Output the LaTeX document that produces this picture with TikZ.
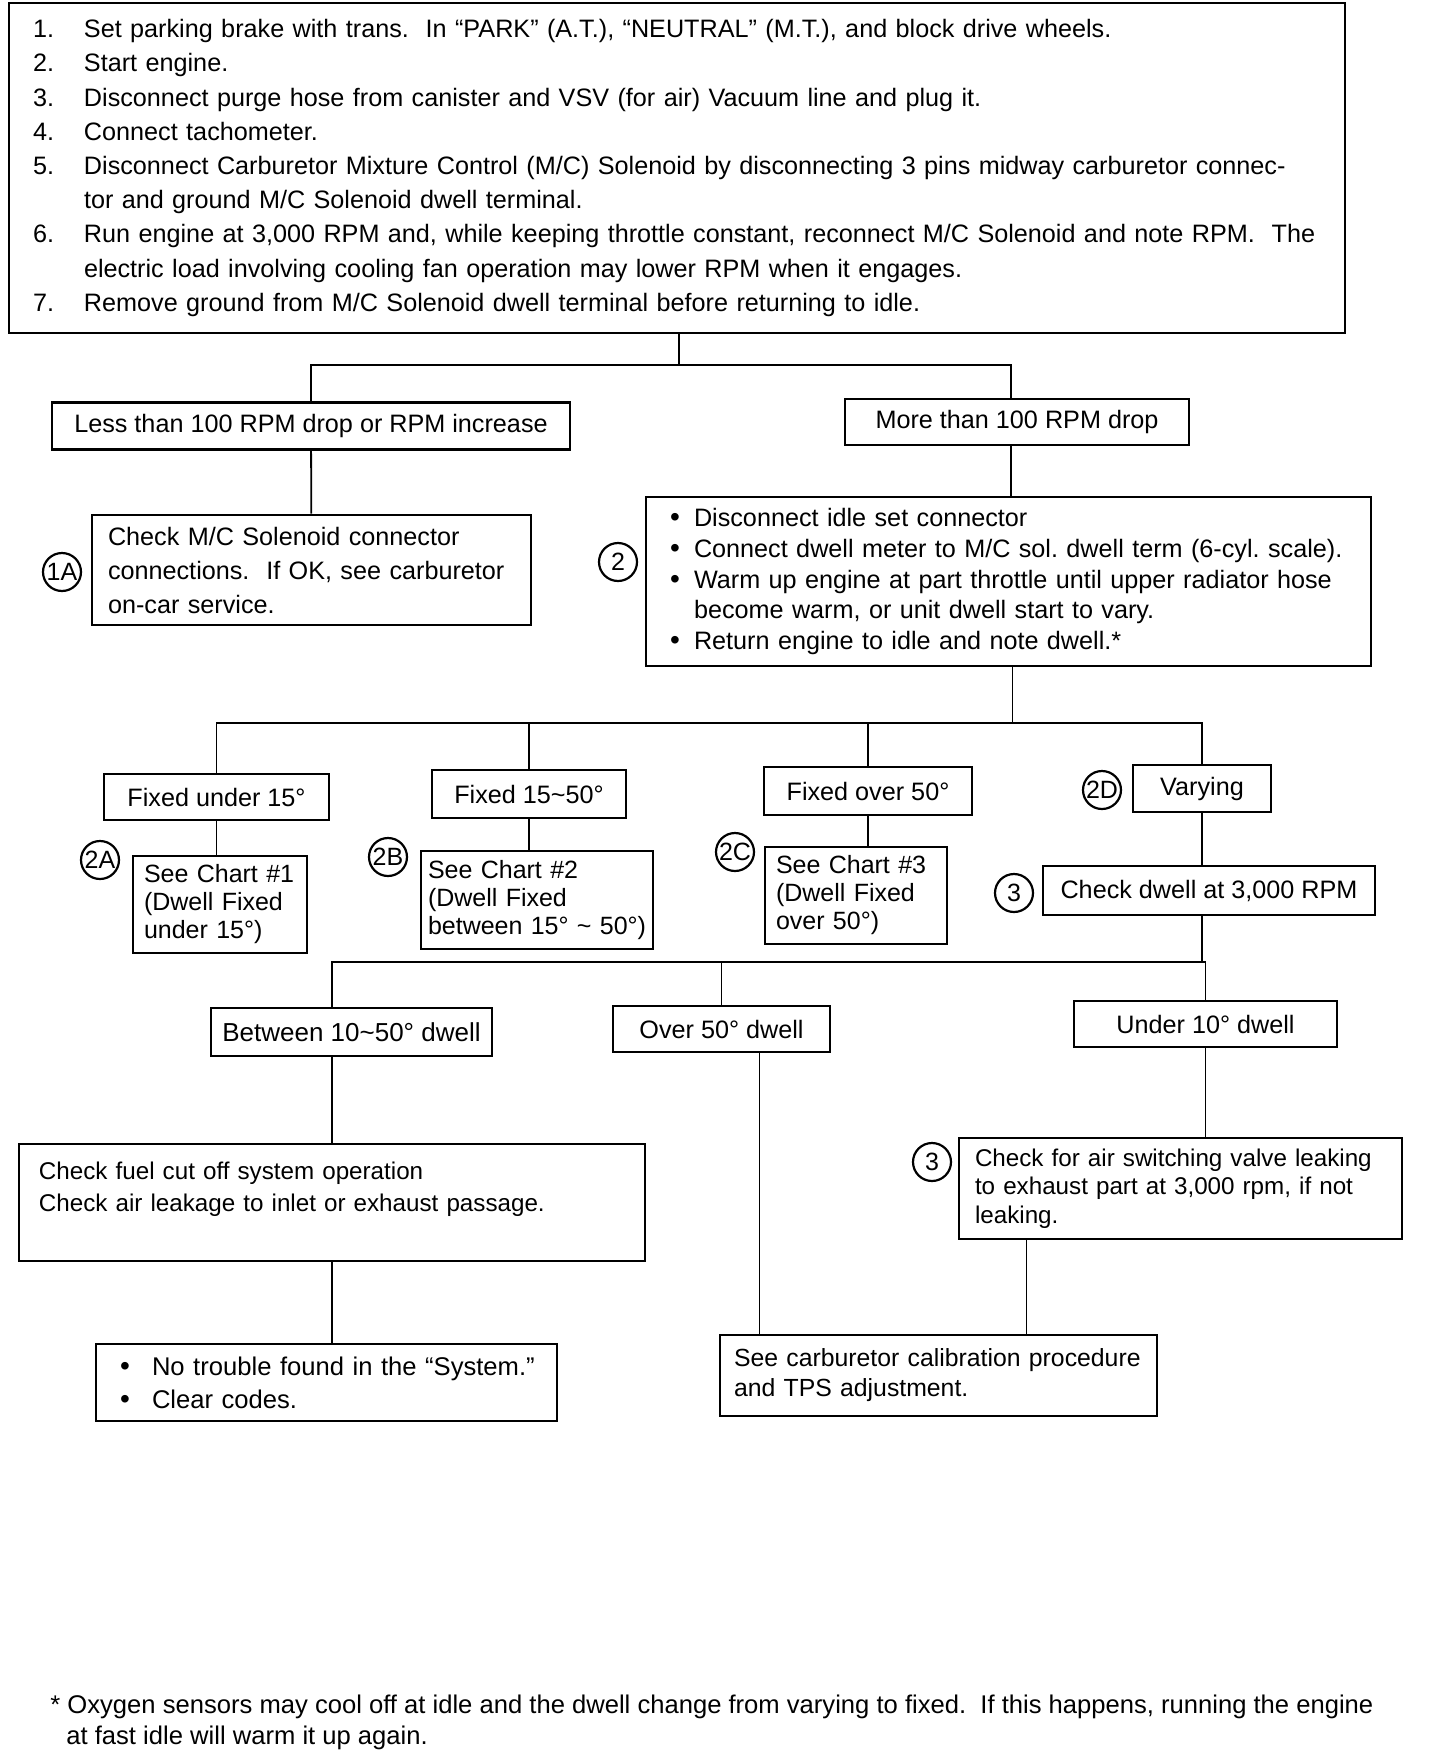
\documentclass[tikz,border=0pt]{standalone}
\usepackage{fontspec}
\setmainfont{Liberation Sans}
\usetikzlibrary{positioning}

\newcommand{\itm}[2]{\mbox{\makebox[25.5pt][l]{#1}#2}}
\newcommand{\blt}[1][12pt]{\makebox[#1][l]{\fontsize{14}{14}\selectfont\textbullet}}

\begin{document}
\frenchspacing
\begin{tikzpicture}[
  x=0.5pt, y=-0.5pt,
  box/.style={draw, line width=1.4pt, inner sep=0pt, align=center},
  txt/.style 2 args={font=\fontsize{#1}{#2}\selectfont},
  one/.style={txt={12.6}{15}},
  tag/.style={circle, draw, line width=1.1pt, inner sep=0pt, minimum size=19pt,
              font=\fontsize{12.5}{12.5}\selectfont},
  link/.style={line width=0.9pt},
]
  \useasboundingbox (0,0) rectangle (1440,1750);

  % procedure
  \node[box, txt={12.6}{17.1}, align=left, text width=644pt, inner xsep=12pt,
        minimum height=165pt] (top) at (677,168)
    {\itm{1.}{Set parking brake with trans.\ \ In “PARK” (A.T.), “NEUTRAL” (M.T.), and block drive wheels.}\\
     \itm{2.}{Start engine.}\\
     \itm{3.}{Disconnect purge hose from canister and VSV (for air) Vacuum line and plug it.}\\
     \itm{4.}{Connect tachometer.}\\
     \itm{5.}{Disconnect Carburetor Mixture Control (M/C) Solenoid by disconnecting 3 pins midway carburetor connec-}\\
     \itm{}{tor and ground M/C Solenoid dwell terminal.}\\
     \itm{6.}{Run engine at 3,000 RPM and, while keeping throttle constant, reconnect M/C Solenoid and note RPM.\ \ The}\\
     \itm{}{electric load involving cooling fan operation may lower RPM when it engages.}\\
     \itm{7.}{Remove ground from M/C Solenoid dwell terminal before returning to idle.}};

  % RPM result
  \node[box, one, minimum width=259pt, minimum height=23.5pt] (less) at (311,426)
    {Less than 100 RPM drop or RPM increase};
  \node[box, one, minimum width=172pt, minimum height=23pt] (more) at (1017,422)
    {More than 100 RPM drop};

  \node[box, txt={12.6}{17}, align=left, text width=203.5pt, inner xsep=8pt,
        minimum height=55pt] (chk1a) at (311.5,570)
    {Check M/C Solenoid connector\\
     \mbox{connections.\ \ If OK, see carburetor}\\
     on-car service.};
  \node[box, txt={12.6}{15.4}, align=left, text width=338.5pt, inner xsep=12pt,
        minimum height=84.5pt] (chk2) at (1008.5,581.5)
    {\blt Disconnect idle set connector\\
     \blt Connect dwell meter to M/C sol. dwell term (6-cyl. scale).\\
     \blt Warm up engine at part throttle until upper radiator hose\\
     \hspace*{12pt}become warm, or unit dwell start to vary.\\
     \blt Return engine to idle and note dwell.*};

  % dwell at idle
  \node[box, one, minimum width=112.5pt, minimum height=23pt] (fix15) at (216.5,797)
    {Fixed under 15°};
  \node[box, one, minimum width=97pt, minimum height=24pt] (fix1550) at (529,794)
    {Fixed 15\textasciitilde 50°};
  \node[box, one, minimum width=104pt, minimum height=24pt] (fix50) at (868,791)
    {Fixed over 50°};
  \node[box, one, minimum width=69pt, minimum height=23.5pt] (vary) at (1202,788.5)
    {Varying};

  \node[box, txt={12.5}{14}, align=left, text width=76pt, inner xsep=5.5pt,
        minimum height=48.5pt] (chart1) at (220,904.5)
    {See Chart \#1\\(Dwell Fixed\\under 15°)};
  \node[box, txt={12.5}{14}, align=left, text width=109pt, inner xsep=3.5pt,
        minimum height=49pt] (chart2) at (537,900)
    {See Chart \#2\\(Dwell Fixed\\\mbox{between 15° \textasciitilde{} 50°)}};
  \node[box, txt={12.5}{14}, align=left, text width=80pt, inner xsep=5.5pt,
        minimum height=48.5pt] (chart3) at (856,895.5)
    {See Chart \#3\\(Dwell Fixed\\over 50°)};
  \node[box, one, minimum width=166pt, minimum height=24.5pt] (dwell3k) at (1209,890.5)
    {Check dwell at 3,000 RPM};

  % dwell at 3,000 RPM
  \node[box, txt={13}{15}, minimum width=140.5pt, minimum height=24pt] (btw) at (351.5,1032)
    {Between 10\textasciitilde 50° dwell};
  \node[box, one, minimum width=108.5pt, minimum height=23pt] (ov50) at (721.5,1029)
    {Over 50° dwell};
  \node[box, one, minimum width=131.5pt, minimum height=23pt] (un10) at (1205.5,1024)
    {Under 10° dwell};

  \node[box, txt={12.1}{16}, align=left, text width=293pt, inner xsep=10pt,
        minimum height=58.5pt] (fuel) at (332,1202.5)
    {Check fuel cut off system operation\\
     Check air leakage to inlet or exhaust passage.\\
     \mbox{}};
  \node[box, txt={12.1}{14.25}, align=left, text width=205.5pt, inner xsep=8pt,
        minimum height=50.5pt] (asv) at (1180.5,1188.5)
    {\mbox{Check for air switching valve leaking}\\
     to exhaust part at 3,000 rpm, if not\\
     leaking.};
  \node[box, txt={12.8}{16.5}, align=left, text width=210.5pt, inner xsep=10pt,
        minimum height=38.5pt] (notr) at (326.5,1382.5)
    {\mbox{\hspace*{2pt}\blt[16pt]No trouble found in the “System.”}\\
     \hspace*{2pt}\blt[16pt]Clear codes.};
  \node[box, txt={12.4}{15}, align=left, text width=204.5pt, inner xsep=7pt,
        minimum height=40.5pt] (calib) at (938.5,1375.5)
    {\mbox{See carburetor calibration procedure}\\
     and TPS adjustment.};

  % step tags
  \node[tag] (tag1a) at (62,572) {1A};
  \node[tag] (tag2) at (618,562) {2};
  \node[tag] (tag2a) at (100,860) {2A};
  \node[tag] (tag2b) at (388,857) {2B};
  \node[tag] (tag2c) at (735,852) {2C};
  \node[tag] (tag2d) at (1102,790) {2D};
  \node[tag] (tag3a) at (1014,893) {3};
  \node[tag] (tag3b) at (932,1162) {3};

  % connectors
  \coordinate (j1) at (679,365);
  \coordinate (j2) at (0,723);
  \coordinate (j3) at (0,962);
  \draw[link] (top.south -| j1) -- (j1);
  \draw[link] (less.north) |- (j1) -| ([xshift=-3pt]more.north);
  \draw[link] (less) -- (chk1a);
  \draw[link] ([xshift=-3pt]more.south) -- ([xshift=-3pt]more.south |- chk2.north);

  \draw[link] ([xshift=2pt]chk2.south) -- ([xshift=2pt]chk2.south |- j2);
  \draw[link] (fix15.north) |- (vary.north |- j2) -- (vary.north);
  \draw[link] (fix1550.north) -- (fix1550.north |- j2);
  \draw[link] (fix50.north) -- (fix50.north |- j2);
  \draw[link] (fix15.south) -- (fix15.south |- chart1.north);
  \draw[link] (fix1550.south) -- (fix1550.south |- chart2.north);
  \draw[link] (fix50.south) -- (fix50.south |- chart3.north);
  \draw[link] (vary.south) -- (vary.south |- dwell3k.north);

  \draw[link] (vary.south |- dwell3k.south) -- (vary.south |- j3);
  \draw[link] (fuel.north |- btw.north) |- (un10.north |- j3) -- (un10.north);
  \draw[link] (ov50.north) -- (ov50.north |- j3);
  \draw[link] (fuel.north |- btw.south) -- (fuel.north);
  \draw[link] (un10.south) -- (un10.south |- asv.north);
  \draw[link] (fuel.south) -- (fuel.south |- notr.north);
  \coordinate (ov50s) at ([xshift=19pt]ov50.south);
  \coordinate (asvs) at ([xshift=-77pt]asv.south);
  \draw[link] (ov50s) -- (ov50s |- calib.north);
  \draw[link] (asvs) -- (asvs |- calib.north);

  % footnote
  \node[txt={12.8}{15.5}, align=left, anchor=west, inner sep=0pt] (foot) at (50,1722)
    {* Oxygen sensors may cool off at idle and the dwell change from varying to fixed.\ \ If this happens, running the engine\\
     \hspace*{8pt}at fast idle will warm it up again.};
\end{tikzpicture}
\end{document}
